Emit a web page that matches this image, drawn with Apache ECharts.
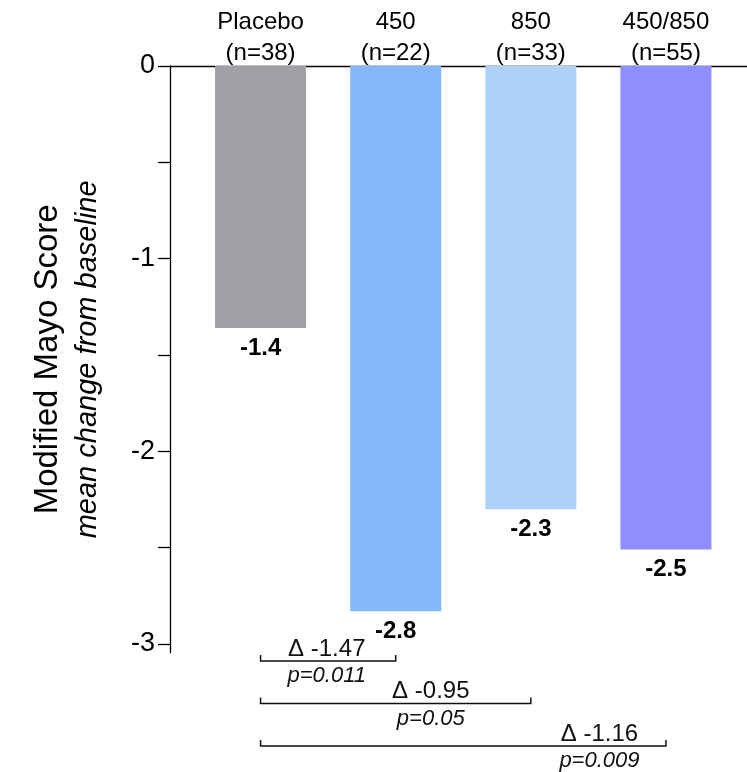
<!DOCTYPE html>
<html><head><meta charset="utf-8">
<script src="https://cdn.jsdelivr.net/npm/echarts@6/dist/echarts.min.js"></script>
<style>html,body{margin:0;padding:0;background:#fff}#c{width:747px;height:772px}</style>
</head><body><div id="c"></div>
<script>
const categories = ['Placebo', '450', '850', '450/850'];
const groupSizes = ['(n=38)', '(n=22)', '(n=33)', '(n=55)'];
const meanChange = [-1.36, -2.83, -2.30, -2.51];
const yTicks = [0, -0.5, -1, -1.5, -2, -2.5, -3];
const yLabels = [0, -1, -2, -3];
const compFrom = [0, 0, 0];
const compTo = [1, 2, 3];
const compDelta = ['Δ -1.47', 'Δ -0.95', 'Δ -1.16'];
const compP = ['p=0.011', 'p=0.05', 'p=0.009'];

const barColors = ['#A1A0A5', '#84B6FA', '#B0D1FA', '#8E8EFF'];
const textFrac = [0.49, 0.63, 0.836];
const FONT = '"Liberation Sans", Arial, Helvetica, sans-serif';

const chart = echarts.init(document.getElementById('c'), null, {renderer: 'canvas'});
const gridTop = 66, gridBottom = 119.3;
const option = {
  animation: false,
  backgroundColor: '#fff',
  grid: [
    {left: 170, right: 0, top: gridTop, bottom: gridBottom},
    {left: 193, right: 13.5, top: gridTop, bottom: gridBottom}
  ],
  xAxis: [
    {gridIndex: 0, type: 'value', min: 0, max: 1, position: 'top',
     axisLine: {show: true, lineStyle: {color: '#000', width: 1.3}},
     axisTick: {show: false}, axisLabel: {show: false}, splitLine: {show: false}},
    {gridIndex: 1, type: 'category', position: 'top', data: categories.map((c, i) => c + '\n' + groupSizes[i]),
     axisLine: {show: false}, axisTick: {show: false},
     axisLabel: {color: '#000', fontFamily: FONT, fontSize: 24, lineHeight: 31, margin: -3}}
  ],
  yAxis: [
    {gridIndex: 0, type: 'value', min: -3.045, max: 0,
     axisLine: {show: true, lineStyle: {color: '#000', width: 1.3}},
     axisTick: {show: true, length: 12, customValues: yTicks, lineStyle: {color: '#000', width: 1.3}},
     axisLabel: {customValues: yLabels, color: '#000', fontFamily: FONT, fontSize: 27, margin: 15},
     splitLine: {show: false},
     name: '{a|Modified Mayo Score}\n{b|mean change from baseline}',
     nameLocation: 'middle', nameRotate: 90, nameGap: 62,
     nameTextStyle: {rich: {
       a: {fontSize: 33, fontFamily: FONT, color: '#000', lineHeight: 40},
       b: {fontSize: 29, fontFamily: FONT, fontStyle: 'italic', color: '#000', lineHeight: 40}
     }}},
    {gridIndex: 1, type: 'value', min: -3.045, max: 0, show: false}
  ],
  series: [
    {type: 'bar', xAxisIndex: 1, yAxisIndex: 1, barWidth: 91,
     data: meanChange.map((v, i) => ({value: v, itemStyle: {color: barColors[i]}})),
     label: {show: true, position: 'bottom', distance: 8, color: '#000', fontFamily: FONT,
             fontWeight: 'bold', fontSize: 24, formatter: p => p.value.toFixed(1)}},
    {type: 'custom', xAxisIndex: 1, yAxisIndex: 1, clip: false,
     encode: {x: 0, y: 1},
     data: compFrom.map((f, i) => [f, compTo[i]]),
     renderItem: function (params, api) {
       const i = params.dataIndex;
       const x1 = api.coord([api.value(0), 0])[0];
       const x2 = api.coord([api.value(1), 0])[0];
       const yBase = api.coord([0, -3])[1];
       const y = yBase + 17 + i * 42.5;
       const tx = x1 + (x2 - x1) * textFrac[i];
       return {type: 'group', children: [
         {type: 'polyline', shape: {points: [[x1, y - 6], [x1, y], [x2, y], [x2, y - 6]]},
          style: {stroke: '#111', lineWidth: 1.5, fill: null}},
         {type: 'text', style: {text: compDelta[i], x: tx, y: y - 12, align: 'center', verticalAlign: 'middle',
          fontFamily: FONT, fontSize: 24, fill: '#111'}},
         {type: 'text', style: {text: compP[i], x: tx, y: y + 15, align: 'center', verticalAlign: 'middle',
          fontFamily: FONT, fontSize: 22, fontStyle: 'italic', fill: '#111'}}
       ]};
     }}
  ]
};
chart.setOption(option);
</script></body></html>
